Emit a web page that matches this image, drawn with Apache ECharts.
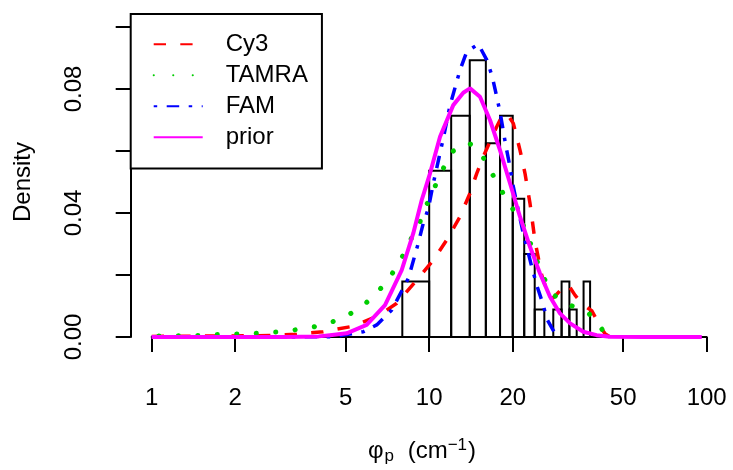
<!DOCTYPE html>
<html>
<head>
<meta charset="utf-8">
<script src="https://cdn.jsdelivr.net/npm/echarts@6/dist/echarts.min.js"></script>
<style>html,body{margin:0;padding:0;background:#fff;}#c{width:733px;height:470px;}</style>
</head>
<body>
<div id="c"></div>
<script>
// ---- data ----
const binEdges = [8,10,12,14,16,18,20,22,24,26,28,30,32,34,36,38];
const binDensity = [0.0179,0.0536,0.0714,0.0893,0.0625,0.0714,0.0446,0.0268,0.0089,0,0.0089,0.0179,0.0089,0,0.0179];

const cy3X = [1,1.71,2.32,2.74,3.33,4.15,5.33,6.63,7.64,9.02,10.35,11.56,12.91,14.03,14.84,15.67,16.56,17.51,18.25,19.07,20.1,21.24,22.14,23.08,24.06,24.73,25.43,26.87,27.64,28.81,30.35,31.72,33.52,35.92,38.51,39.91,41.27,43.0,44.8];
const cy3Y = [0.0002,0.0003,0.0004,0.0005,0.0009,0.0017,0.0035,0.0071,0.0109,0.0184,0.0248,0.0313,0.0388,0.0464,0.0528,0.0582,0.063,0.0678,0.0711,0.0720,0.0689,0.0603,0.0528,0.0431,0.031,0.0255,0.020,0.0135,0.0122,0.0138,0.016,0.0168,0.0135,0.0103,0.0085,0.006,0.0033,0.0011,0];

const tamraX = [0.902,1.063,1.247,1.465,1.723,2.025,2.376,2.798,3.285,3.854,4.512,5.214,5.954,6.688,7.362,8.0,8.6,9.27,9.84,10.52,11.24,12.21,13.95,15.59,16.88,18.25,19.83,21.72,23.08,24.40,25.93,28.17,32.17,37.44,41.5,43.0,45.6];
const tamraY = [0.0001,0.0003,0.0004,0.0005,0.0008,0.001,0.0012,0.0016,0.0023,0.0033,0.005,0.0076,0.0112,0.0157,0.0205,0.0259,0.0316,0.0372,0.0431,0.0488,0.0544,0.06,0.0626,0.0582,0.0526,0.0471,0.0418,0.0365,0.0306,0.0248,0.0189,0.0135,0.0103,0.0078,0.0031,0.001,0];

const famX = [1,3,4.5,4.90,5.79,6.47,7.33,8.41,9.13,9.52,9.93,10.35,11.24,11.89,12.57,12.91,13.65,15.03,16.12,16.88,17.51,17.99,18.91,19.44,19.93,20.50,21.83,23.41,24.51,25.43,26.65,28.40,29.61];
const famY = [0,0,0.0001,0.0006,0.0017,0.0039,0.0087,0.0189,0.0302,0.0367,0.0415,0.0496,0.0641,0.0748,0.0824,0.0861,0.092,0.0945,0.0894,0.084,0.0775,0.0727,0.0614,0.056,0.0501,0.0447,0.0334,0.0227,0.0162,0.0119,0.0055,0.0012,0];

const priorX = [1,2,3,4,4.39,5.04,5.95,6.93,7.96,8.76,9.40,10.07,10.94,12.21,13.27,14.03,15.24,16.56,17.99,19.55,21.24,23.08,25.08,27.25,29.6,32.2,35.9,40.1,44.8,60,96];
const priorY = [0,0,0,0.0002,0.0006,0.0012,0.0039,0.0103,0.0216,0.0334,0.0442,0.0528,0.0646,0.0748,0.0788,0.0802,0.0775,0.0700,0.0603,0.0496,0.0388,0.0291,0.0205,0.0130,0.0076,0.0044,0.0017,0.0006,0.0001,0,0];

const xTicks = [1,2,5,10,20,50,100];
const yLabels = ['0.00','','0.04','','0.08',''];
const seriesNames = ['Cy3','TAMRA','FAM','prior'];

// ---- build ----
const FONT = 'Liberation Sans, Arial, Helvetica, sans-serif';
const zip = (xs, ys) => xs.map((x, i) => [x, ys[i]]);
const bins = binDensity.map((d, i) => [binEdges[i], binEdges[i + 1], d]);

const chart = echarts.init(document.getElementById('c'), null, {renderer: 'canvas'});
const option = {
  animation: false,
  backgroundColor: '#fff',
  textStyle: {fontFamily: FONT},
  title: {
    text: '{a|φ}{sub|p}{a| (cm}{sup|−1}{a|)}',
    left: 368, top: 437, padding: 0,
    textStyle: {
      fontWeight: 'normal', fontSize: 24,
      rich: {
        a: {fontSize: 24, lineHeight: 28, fontFamily: FONT, fontWeight: 'normal', color: '#000'},
        sub: {fontSize: 17, lineHeight: 17, fontFamily: FONT, fontWeight: 'normal', color: '#000', verticalAlign: 'bottom', padding: [0, 7, 0, 1]},
        sup: {fontSize: 17, lineHeight: 17, fontFamily: FONT, fontWeight: 'normal', color: '#000', verticalAlign: 'top', padding: [0, 1, 0, 0]}
      }
    }
  },
  legend: {
    data: seriesNames,
    orient: 'vertical',
    left: 130.7, top: 14,
    padding: [18.3, 14, 19.3, 22],
    itemGap: 7,
    itemWidth: 49, itemHeight: 14,
    borderColor: '#000', borderWidth: 2, borderRadius: 0,
    backgroundColor: '#fff',
    itemStyle: {color: 'rgba(0,0,0,0)', borderWidth: 0, opacity: 0},
    textStyle: {fontSize: 24, lineHeight: 24, fontFamily: FONT, color: '#000', padding: [0, 0, 0, 18]},
    selectedMode: false
  },
  grid: {left: 151.7, right: 26.3, top: 27, bottom: 133, containLabel: false},
  xAxis: {
    type: 'log', logBase: 10, min: 1, max: 100, offset: 13,
    axisLine: {show: true, lineStyle: {color: '#000', width: 2}},
    axisTick: {show: true, length: 15, lineStyle: {color: '#000', width: 2}, customValues: xTicks},
    axisLabel: {customValues: xTicks, margin: 36, color: '#000', fontSize: 24, fontFamily: FONT,
      formatter: v => String(Number(Number(v).toPrecision(6)))},
    splitLine: {show: false}, minorTick: {show: false}
  },
  yAxis: {
    type: 'value', min: 0, max: 0.1, interval: 0.02, offset: 21,
    axisLine: {show: true, lineStyle: {color: '#000', width: 2}},
    axisTick: {show: true, length: 15, lineStyle: {color: '#000', width: 2}},
    axisLabel: {rotate: 90, margin: 20, padding: [0, 0, 24, 0], color: '#000', fontSize: 24, fontFamily: FONT,
      formatter: (v, i) => yLabels[i]},
    splitLine: {show: false},
    name: 'Density', nameLocation: 'middle', nameGap: 95, nameMoveOverlap: false,
    nameTextStyle: {fontSize: 24, fontFamily: FONT, color: '#000'}
  },
  series: [
    {
      type: 'custom', name: 'hist', silent: true, clip: false,
      encode: {x: [0, 1], y: 2},
      data: bins,
      renderItem: (params, api) => {
        const lo = api.value(0), hi = api.value(1), d = api.value(2);
        const p0 = api.coord([lo, d]);
        const p1 = api.coord([hi, 0]);
        return {type: 'rect', shape: {x: p0[0], y: p0[1], width: p1[0] - p0[0], height: p1[1] - p0[1]},
          style: {fill: 'none', stroke: '#000', lineWidth: 2}};
      }
    },
    {name: 'Cy3', type: 'line', data: zip(cy3X, cy3Y), symbol: 'none', clip: false, smooth: false,
      lineStyle: {color: '#ff0000', width: 3.5, type: [12.3, 14.3], cap: 'butt'}, itemStyle: {color: '#ff0000'}},
    {name: 'TAMRA', type: 'line', data: zip(tamraX, tamraY), symbol: 'none', clip: false, smooth: false,
      lineStyle: {color: '#00cd00', width: 5, type: [0.1, 19.4], cap: 'round'}, itemStyle: {color: '#00cd00'}},
    {name: 'FAM', type: 'line', data: zip(famX, famY), symbol: 'none', clip: false, smooth: false,
      lineStyle: {color: '#0000ff', width: 3.5, type: [3.5, 9.5, 12.5, 9.5], cap: 'butt'}, itemStyle: {color: '#0000ff'}},
    {name: 'prior', type: 'line', data: zip(priorX, priorY), symbol: 'none', clip: false, smooth: false,
      lineStyle: {color: '#ff00ff', width: 4, type: 'solid'}, itemStyle: {color: '#ff00ff'}}
  ]
};
chart.setOption(option);
</script>
</body>
</html>
